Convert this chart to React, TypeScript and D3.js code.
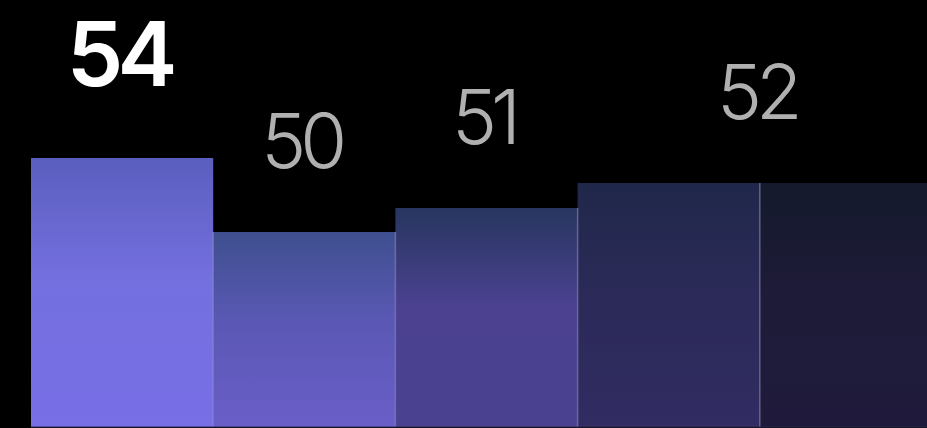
import React from "react";
import * as d3 from "d3";

const W = 927;
const H = 428;

const categories = ["A", "B", "C", "D", "E"];
const values = [53.6, 49.9, 51.1, 52.35, 52.35];
const labelBands = ["A", "B", "C", "D"];
const labelAnchor = [0.5, 0.5, 0.5, 1.0];
const highlighted = [true, false, false, false];
const gradTop = ["#5a5ebd", "#3e4f8e", "#27365f", "#20284a", "#141a2c"];
const gradMid = ["#7470e0", "#5a58b4", "#4b4190", "#2b2a58", "#1e1b38"];
const gradBottom = ["#786ee6", "#6a5ec8", "#4a4190", "#312c62", "#1f1a3b"];

const fmt = d3.format(".0f");

export default function App() {
  const x = d3.scaleBand<string>().domain(categories).range([31, 942]).padding(0);
  const y = d3.scaleLinear().domain([40.15, 61.5]).range([H - 1, 0]);
  const bw = x.bandwidth();

  return (
    <svg
      width={W}
      height={H}
      style={{ position: "fixed", left: 0, top: 0, display: "block", background: "#000" }}
    >
      <defs>
        {categories.map((c, i) => (
          <linearGradient key={c} id={`g${i}`} x1="0" y1="0" x2="0" y2="1">
            <stop offset="0%" stopColor={gradTop[i]} />
            <stop offset="45%" stopColor={gradMid[i]} />
            <stop offset="100%" stopColor={gradBottom[i]} />
          </linearGradient>
        ))}
      </defs>
      <rect x={0} y={0} width={W} height={H} fill="#000" />
      {categories.map((c, i) => (
        <rect
          key={c}
          x={x(c)!}
          y={y(values[i])}
          width={bw}
          height={H - 1 - y(values[i])}
          fill={`url(#g${i})`}
        />
      ))}
      {categories.slice(1).map((c, i) => (
        <line
          key={c}
          x1={x(c)!}
          x2={x(c)!}
          y1={y(Math.min(values[i], values[i + 1]))}
          y2={H - 1}
          stroke="#9a9ac8"
          strokeOpacity={0.55}
          strokeWidth={1.5}
        />
      ))}
      <line x1={x("A")!} x2={W} y1={H - 1} y2={H - 1} stroke="#2a2850" strokeWidth={1} />
      {labelBands.map((b, i) => {
        const idx = categories.indexOf(b);
        const cx = x(b)! + bw * labelAnchor[i] - 3;
        const hi = highlighted[i];
        return (
          <text
            key={i}
            x={cx}
            y={y(values[idx]) - (hi ? 72 : 64)}
            textAnchor="middle"
            fill={hi ? "#ffffff" : "#b0b0b0"}
            fontFamily="Inter, 'Liberation Sans', sans-serif"
            fontWeight={hi ? 600 : 300}
            fontSize={hi ? 90 : 76}
            letterSpacing={-6}
          >
            {fmt(values[idx])}
          </text>
        );
      })}
    </svg>
  );
}
